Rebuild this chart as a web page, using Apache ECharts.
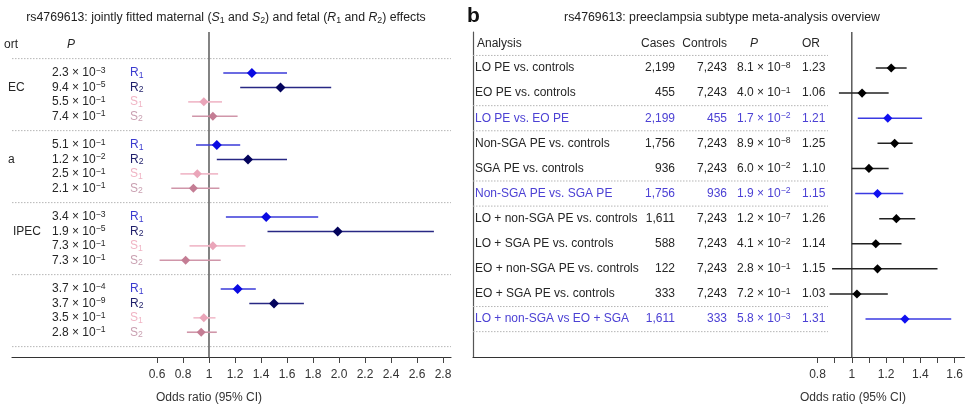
<!DOCTYPE html>
<html><head><meta charset="utf-8">
<script src="https://cdn.jsdelivr.net/npm/echarts@6/dist/echarts.min.js"></script>
<style>html,body{margin:0;padding:0;background:#fff}#c{width:966px;height:408px}</style>
</head><body><div id="c"></div>
<script>
// ---------------- DATA ----------------
// Panel a: jointly fitted maternal / fetal effects (4 cohort groups x 4 effects)
const leftGroupNames = ['EC', 'a', 'IPEC', ''];
const leftEffectNames = ['R1', 'R2', 'S1', 'S2'];
const leftPValues = ['2.3e-3', '9.4e-5', '5.5e-1', '7.4e-1',
                     '5.1e-1', '1.2e-2', '2.5e-1', '2.1e-1',
                     '3.4e-3', '1.9e-5', '7.3e-1', '7.3e-1',
                     '3.7e-4', '3.7e-9', '3.5e-1', '2.8e-1'];
const leftOR   = [1.33, 1.55, 0.96, 1.03,  1.06, 1.30, 0.91, 0.88,  1.44, 1.99, 1.03, 0.82,  1.22, 1.50, 0.96, 0.94];
const leftLow  = [1.11, 1.24, 0.84, 0.87,  0.90, 1.06, 0.78, 0.71,  1.13, 1.45, 0.85, 0.62,  1.09, 1.31, 0.88, 0.83];
const leftHigh = [1.60, 1.94, 1.10, 1.22,  1.24, 1.60, 1.07, 1.08,  1.84, 2.73, 1.28, 1.09,  1.36, 1.73, 1.05, 1.06];
const leftTicks = [0.6, 0.8, 1, 1.2, 1.4, 1.6, 1.8, 2.0, 2.2, 2.4, 2.6, 2.8];

// Panel b: preeclampsia subtype meta-analysis overview
const rightAnalysis = ['LO PE vs. controls', 'EO PE vs. controls', 'LO PE vs. EO PE',
  'Non-SGA PE vs. controls', 'SGA PE vs. controls', 'Non-SGA PE vs. SGA PE',
  'LO + non-SGA PE vs. controls', 'LO + SGA PE vs. controls', 'EO + non-SGA PE vs. controls',
  'EO + SGA PE vs. controls', 'LO + non-SGA vs EO + SGA'];
const rightCases    = ['2,199', '455', '2,199', '1,756', '936', '1,756', '1,611', '588', '122', '333', '1,611'];
const rightControls = ['7,243', '7,243', '455', '7,243', '7,243', '936', '7,243', '7,243', '7,243', '7,243', '333'];
const rightPValues  = ['8.1e-8', '4.0e-1', '1.7e-2', '8.9e-8', '6.0e-2', '1.9e-2', '1.2e-7', '4.1e-2', '2.8e-1', '7.2e-1', '5.8e-3'];
const rightOR   = [1.23, 1.06, 1.21, 1.25, 1.10, 1.15, 1.26, 1.14, 1.15, 1.03, 1.31];
const rightLow  = [1.14, 0.925, 1.035, 1.15, 1.00, 1.02, 1.16, 1.00, 0.885, 0.87, 1.08];
const rightHigh = [1.32, 1.215, 1.41, 1.355, 1.215, 1.30, 1.37, 1.29, 1.50, 1.21, 1.58];
const rightHighlight = [false, false, true, false, false, true, false, false, false, false, true];
const rightTicks = [0.8, 0.9, 1.0, 1.1, 1.2, 1.3, 1.4, 1.5, 1.6];
const rightTickLabels = [0.8, 1, 1.2, 1.4, 1.6];

// ---------------- STYLE / LAYOUT ----------------
const FONT = '"Liberation Sans", Arial, Helvetica, sans-serif';
const effectStyle = {
  R1: {text: '#3b3bcf', line: '#3a3ad8', marker: '#0a0ae2', size: 5},
  R2: {text: '#1f1f6a', line: '#282884', marker: '#03035c', size: 5},
  S1: {text: '#f0b4c4', line: '#f1bccb', marker: '#eaa5b9', size: 4.5},
  S2: {text: '#c9a0b1', line: '#d096a9', marker: '#c47d94', size: 4.5}
};
const groupLabelX = [8, 8, 13, 8];
const blackRow = {text: '#262626', line: '#222', marker: '#000'};
const blueRow = {text: '#4c41d4', line: '#3a3ae2', marker: '#1010f0'};

const rowsPerGroup = 5; // 4 effects + a gap
const leftRowY = leftOR.map((_, k) => Math.floor(k / 4) * rowsPerGroup + (k % 4));

function pRich(s) {
  const parts = s.split('e');
  return parts[0] + ' \u00d7 10{sup|' + parts[1].replace('-', '\u2212') + '}';
}
function richSet(color, size) {
  return {
    sup: {fontSize: size * 0.72, fontFamily: FONT, fill: color, lineHeight: 6, verticalAlign: 'top'},
    sub: {fontSize: size * 0.72, fontFamily: FONT, fill: color, lineHeight: 6, verticalAlign: 'bottom'},
    i: {fontSize: size, fontFamily: FONT, fill: color, fontStyle: 'italic', lineHeight: 14}
  };
}
function txt(x, y, text, color, size, align, extra) {
  return {
    type: 'text',
    style: Object.assign({
      x: x, y: y, text: text, fill: color, fontSize: size, fontFamily: FONT,
      align: align || 'left', verticalAlign: 'middle', lineHeight: 14,
      rich: richSet(color, size)
    }, extra || {})
  };
}
function diamond(cx, cy, s, color) {
  return {type: 'polygon', shape: {points: [[cx, cy - s], [cx + s, cy], [cx, cy + s], [cx - s, cy]]}, style: {fill: color}};
}

function xAxisDef(gridIndex, min, max, ticks, labels) {
  return {
    type: 'value', gridIndex: gridIndex, min: min, max: max, position: 'bottom',
    axisLine: {show: true, onZero: false, lineStyle: {color: '#333', width: 1.2}},
    axisTick: {show: true, customValues: ticks, length: 6, lineStyle: {color: '#444', width: 1}},
    axisLabel: {show: true, customValues: labels, margin: 12, fontSize: 12, color: '#333', fontFamily: FONT,
      formatter: v => (Math.abs(v - 1) < 1e-9 ? '1' : v.toFixed(1))},
    splitLine: {show: false}
  };
}

function sepSeries(xi, yi, ys, widthOf) {
  return {
    type: 'custom', xAxisIndex: xi, yAxisIndex: yi, silent: true, clip: false,
    data: ys.map(y => [1, y]), encode: {x: 0, y: 1},
    renderItem(params, api) {
      const cs = params.coordSys;
      const y = api.coord([1, api.value(1)])[1];
      return {type: 'line', shape: {x1: cs.x, y1: y, x2: cs.x + widthOf(cs), y2: y},
        style: {stroke: '#b5b5b5', lineWidth: 1, lineDash: [1.5, 1.5]}};
    }
  };
}
function refLine(xi, yi) {
  return {
    type: 'custom', xAxisIndex: xi, yAxisIndex: yi, silent: true, clip: false,
    data: [[1, 0]], encode: {x: 0, y: 1},
    renderItem(params, api) {
      const cs = params.coordSys;
      const x = api.coord([api.value(0), 0])[0];
      return {type: 'line', shape: {x1: x, y1: cs.y, x2: x, y2: cs.y + cs.height},
        style: {stroke: '#5a5a5a', lineWidth: 1.5}};
    }
  };
}

// left separators: before each group and after the last
const leftSeps = leftGroupNames.map((_, g) => g * rowsPerGroup - 1).concat([leftGroupNames.length * rowsPerGroup - 1]);
// right separators: below header and around highlighted rows
const rightSeps = [-0.5];
rightHighlight.forEach((h, i) => { if (h) rightSeps.push(i - 0.5, i + 0.5); });

const chart = echarts.init(document.getElementById('c'), null, {renderer: 'canvas'});
const option = {
  animation: false,
  backgroundColor: '#fff',
  grid: [
    {left: 12, top: 32, width: 439, height: 325},
    {left: 473, top: 32, width: 493, height: 325}
  ],
  xAxis: [
    xAxisDef(0, -0.51538, 2.86154, leftTicks, leftTicks),
    xAxisDef(1, -1.2093, 1.6570, rightTicks, rightTickLabels)
  ],
  yAxis: [
    {type: 'value', gridIndex: 0, inverse: true, min: -2.85, max: 19.72, show: false},
    {type: 'value', gridIndex: 1, inverse: true, min: -1.434, max: 11.51,
      axisLine: {show: true, onZero: false, lineStyle: {color: '#555', width: 1.2}},
      axisTick: {show: false}, axisLabel: {show: false}, splitLine: {show: false}}
  ],
  graphic: [
    {type: 'text', x: 226, y: 18, style: {
      text: 'rs4769613: jointly fitted maternal ({i|S}{sub|1} and {i|S}{sub|2}) and fetal ({i|R}{sub|1} and {i|R}{sub|2}) effects',
      fill: '#222', fontSize: 12.3, fontFamily: FONT, align: 'center', verticalAlign: 'middle', lineHeight: 14,
      rich: richSet('#222', 12.3)}},
    {type: 'text', x: 722, y: 18, style: {
      text: 'rs4769613: preeclampsia subtype meta-analysis overview',
      fill: '#222', fontSize: 12.3, fontFamily: FONT, align: 'center', verticalAlign: 'middle'}},
    {type: 'text', x: 467, y: 16, style: {text: 'b', fill: '#111', fontSize: 21, fontWeight: 'bold',
      fontFamily: FONT, align: 'left', verticalAlign: 'middle'}},
    {type: 'text', x: 209, y: 398, style: {text: 'Odds ratio (95% CI)', fill: '#333', fontSize: 12,
      fontFamily: FONT, align: 'center', verticalAlign: 'middle'}},
    {type: 'text', x: 853, y: 398, style: {text: 'Odds ratio (95% CI)', fill: '#333', fontSize: 12,
      fontFamily: FONT, align: 'center', verticalAlign: 'middle'}}
  ],
  series: [
    // ---- left panel ----
    sepSeries(0, 0, leftSeps, cs => cs.width),
    refLine(0, 0),
    { // CI bars + diamonds
      type: 'custom', xAxisIndex: 0, yAxisIndex: 0, clip: false,
      data: leftOR.map((v, k) => [leftRowY[k], v, leftLow[k], leftHigh[k], k % 4]),
      encode: {x: [1, 2, 3], y: 0},
      renderItem(params, api) {
        const y = api.value(0);
        const st = effectStyle[leftEffectNames[api.value(4)]];
        const pl = api.coord([api.value(2), y]), ph = api.coord([api.value(3), y]), pc = api.coord([api.value(1), y]);
        return {type: 'group', children: [
          {type: 'line', shape: {x1: pl[0], y1: pl[1], x2: ph[0], y2: ph[1]}, style: {stroke: st.line, lineWidth: 1.6}},
          diamond(pc[0], pc[1], st.size, st.marker)
        ]};
      }
    },
    { // P values and effect labels
      type: 'custom', xAxisIndex: 0, yAxisIndex: 0, clip: false, silent: true,
      data: leftPValues.map((p, k) => [1, leftRowY[k], k]), encode: {x: 0, y: 1},
      renderItem(params, api) {
        const cs = params.coordSys;
        const k = api.value(2);
        const y = api.coord([1, api.value(1)])[1];
        const name = leftEffectNames[k % 4];
        const st = effectStyle[name];
        return {type: 'group', children: [
          txt(cs.x + 40, y, pRich(leftPValues[k]), '#262626', 12),
          txt(cs.x + 118, y, name[0] + '{sub|' + name.slice(1) + '}', st.text, 12)
        ]};
      }
    },
    { // cohort labels (cropped)
      type: 'custom', xAxisIndex: 0, yAxisIndex: 0, clip: false, silent: true,
      data: leftGroupNames.map((n, g) => [1, g * rowsPerGroup + 1, g]), encode: {x: 0, y: 1},
      renderItem(params, api) {
        const g = api.value(2);
        const y = api.coord([1, api.value(1)])[1];
        return txt(groupLabelX[g], y, leftGroupNames[g], '#262626', 12);
      }
    },
    { // header
      type: 'custom', xAxisIndex: 0, yAxisIndex: 0, clip: false, silent: true,
      data: [[1, -1.95]], encode: {x: 0, y: 1},
      renderItem(params, api) {
        const y = api.coord([1, api.value(1)])[1];
        return {type: 'group', children: [
          txt(4, y, 'ort', '#262626', 12),
          txt(params.coordSys.x + 55, y, 'P', '#262626', 12, 'left', {fontStyle: 'italic'})
        ]};
      }
    },
    // ---- right panel ----
    sepSeries(1, 1, rightSeps, cs => 355),
    refLine(1, 1),
    {
      type: 'custom', xAxisIndex: 1, yAxisIndex: 1, clip: false,
      data: rightOR.map((v, i) => [i, v, rightLow[i], rightHigh[i], rightHighlight[i] ? 1 : 0]),
      encode: {x: [1, 2, 3], y: 0},
      renderItem(params, api) {
        const y = api.value(0);
        const st = api.value(4) ? blueRow : blackRow;
        const pl = api.coord([api.value(2), y]), ph = api.coord([api.value(3), y]), pc = api.coord([api.value(1), y]);
        return {type: 'group', children: [
          {type: 'line', shape: {x1: pl[0], y1: pl[1], x2: ph[0], y2: ph[1]}, style: {stroke: st.line, lineWidth: 1.5}},
          diamond(pc[0], pc[1], 4.6, st.marker)
        ]};
      }
    },
    {
      type: 'custom', xAxisIndex: 1, yAxisIndex: 1, clip: false, silent: true,
      data: rightAnalysis.map((a, i) => [1, i]), encode: {x: 0, y: 1},
      renderItem(params, api) {
        const cs = params.coordSys;
        const i = api.value(1);
        const y = api.coord([1, i])[1];
        const c = rightHighlight[i] ? blueRow.text : blackRow.text;
        return {type: 'group', children: [
          txt(cs.x + 2, y, rightAnalysis[i], c, 12),
          txt(cs.x + 202, y, rightCases[i], c, 12, 'right'),
          txt(cs.x + 254, y, rightControls[i], c, 12, 'right'),
          txt(cs.x + 264, y, pRich(rightPValues[i]), c, 12),
          txt(cs.x + 329, y, rightOR[i].toFixed(2), c, 12)
        ]};
      }
    },
    {
      type: 'custom', xAxisIndex: 1, yAxisIndex: 1, clip: false, silent: true,
      data: [[1, -0.96]], encode: {x: 0, y: 1},
      renderItem(params, api) {
        const cs = params.coordSys;
        const y = api.coord([1, api.value(1)])[1];
        const c = '#262626';
        return {type: 'group', children: [
          txt(cs.x + 4, y, 'Analysis', c, 12),
          txt(cs.x + 202, y, 'Cases', c, 12, 'right'),
          txt(cs.x + 254, y, 'Controls', c, 12, 'right'),
          txt(cs.x + 277, y, 'P', c, 12, 'left', {fontStyle: 'italic'}),
          txt(cs.x + 329, y, 'OR', c, 12)
        ]};
      }
    }
  ]
};
chart.setOption(option);
</script></body></html>
